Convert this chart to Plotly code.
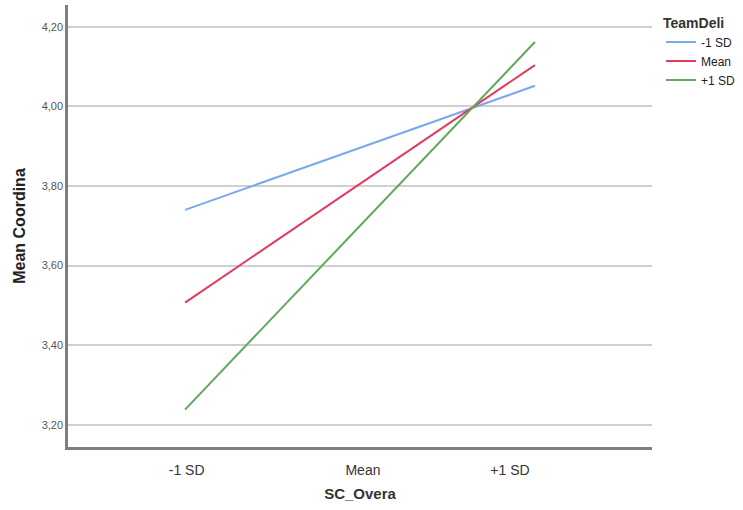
import plotly.graph_objects as go

# Data
x_positions = [-1, 0, 1]          # -1 SD, Mean, +1 SD of SC_Overa
series_names = ["-1 SD", "Mean", "+1 SD"]
blue_vals = [3.740, 3.896, 4.052]
red_vals = [3.507, 3.806, 4.104]
green_vals = [3.238, 3.700, 4.162]
series_values = [blue_vals, red_vals, green_vals]
series_colors = ["#7aa8ea", "#e5395d", "#5faa5c"]

tick_vals_x = [-0.991, 0.017, 0.857]
tick_text_x = ["-1 SD", "Mean", "+1 SD"]
tick_vals_y = [3.2, 3.4, 3.6, 3.8, 4.0, 4.2]

FONT = "Liberation Sans"

fig = go.Figure()
for name, vals, col in zip(series_names, series_values, series_colors):
    fig.add_trace(go.Scatter(x=x_positions, y=vals, mode="lines", name=name,
                             line=dict(color=col, width=2)))

fig.update_layout(
    width=743, height=510,
    margin=dict(l=68, r=91, t=5, b=63, autoexpand=False),
    paper_bgcolor="white", plot_bgcolor="white",
    separators=",.",
    font=dict(family=FONT, color="#333333"),
    showlegend=True,
    legend=dict(
        title=dict(text="<b>TeamDeli</b>", font=dict(size=14, color="#333333")),
        x=1.0154, xanchor="left", y=0.99, yanchor="top",
        xref="paper", yref="paper",
        font=dict(size=12, color="#222222"),
        itemwidth=30, tracegroupgap=0,
        bgcolor="rgba(0,0,0,0)",
        borderwidth=0,
    ),
    xaxis=dict(
        range=[-1.669, 1.669],
        tickmode="array", tickvals=tick_vals_x, ticktext=tick_text_x,
        tickfont=dict(size=14, color="#333333"),
        showgrid=False, zeroline=False,
        showline=True, linecolor="#7f7f7f", linewidth=2.5,
        ticks="", ticklen=0, automargin=False, ticklabelstandoff=8,
        title=dict(text="<b>SC_Overa</b>", font=dict(size=15, color="#333333"), standoff=12),
    ),
    yaxis=dict(
        range=[3.144, 4.255],
        tickmode="array", tickvals=tick_vals_y,
        tickformat=".2f",
        tickfont=dict(size=11, color="#555555"),
        showgrid=True, gridcolor="#d0d0d0", gridwidth=2,
        zeroline=False,
        showline=True, linecolor="#7f7f7f", linewidth=2.5,
        ticks="", ticklen=0, automargin=False,
        title=dict(text="<b>Mean Coordina</b>", font=dict(size=16, color="#222222"), standoff=13),
    ),
)

fig.write_html("out.html", config={"displayModeBar": False},
               post_script="document.body.style.margin='0';")
